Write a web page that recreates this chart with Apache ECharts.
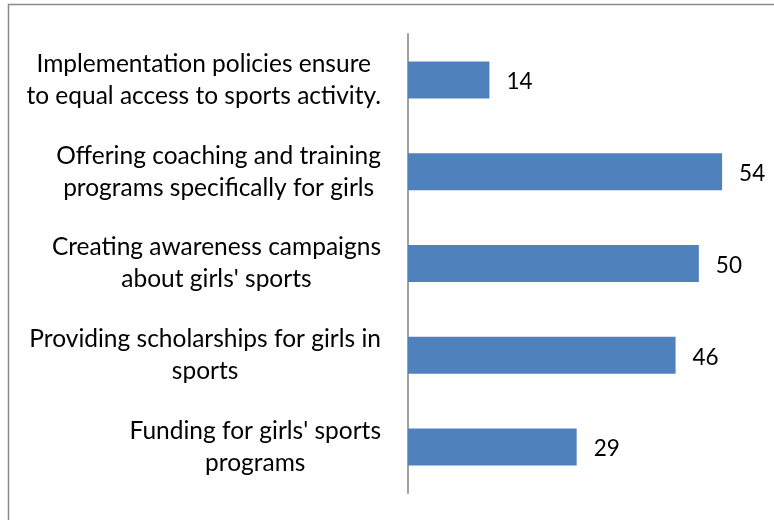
<!DOCTYPE html>
<html>
<head>
<meta charset="utf-8">
<script src="https://cdn.jsdelivr.net/npm/echarts@6/dist/echarts.min.js"></script>
<style>
  html, body { margin: 0; padding: 0; background: #fff; }
  #chart { width: 774px; height: 520px; }
</style>
</head>
<body>
<div id="chart"></div>
<script>
// Categories listed bottom to top (category axis on y runs upward)
const categories = [
  "Funding for girls' sports\nprograms",
  "Providing scholarships for girls in\nsports",
  "Creating awareness campaigns\nabout girls' sports",
  "Offering coaching and training\nprograms specifically for girls",
  "Implementation policies ensure\nto equal access to sports activity."
];
const values = [29, 46, 50, 54, 14];

const FONT = 'Lato, "Open Sans", sans-serif';

const chart = echarts.init(document.getElementById('chart'), null, { renderer: 'canvas' });

chart.setOption({
  animation: false,
  backgroundColor: '#ffffff',
  graphic: [{
    type: 'rect',
    shape: { x: 8.5, y: 4.5, width: 800, height: 560 },
    style: { fill: 'none', stroke: '#8a8a8a', lineWidth: 1.5 },
    silent: true
  }],
  grid: { left: 408, top: 34, width: 349, height: 459, containLabel: false },
  xAxis: {
    type: 'value',
    min: 0,
    max: 60,
    show: false
  },
  yAxis: {
    type: 'category',
    data: categories,
    axisLine: { show: true, lineStyle: { color: '#a0a0a0', width: 2 } },
    axisTick: { show: false },
    splitLine: { show: false },
    axisLabel: {
      margin: 27,
      color: '#000',
      fontFamily: FONT,
      fontSize: 24.5,
      lineHeight: 32,
      formatter: function (v) {
        return v.split('\n').map(function (l) { return '{c|' + l + '}'; }).join('\n');
      },
      rich: {
        c: { align: 'center', color: '#000', fontFamily: FONT, fontSize: 24.5, lineHeight: 32 }
      }
    }
  },
  series: [{
    type: 'bar',
    data: values,
    barWidth: 37,
    itemStyle: { color: '#4F81BD' },
    label: {
      show: true,
      position: 'right',
      distance: 17,
      offset: [0, 2],
      color: '#000',
      fontFamily: FONT,
      fontSize: 22.5
    }
  }]
});
</script>
</body>
</html>
